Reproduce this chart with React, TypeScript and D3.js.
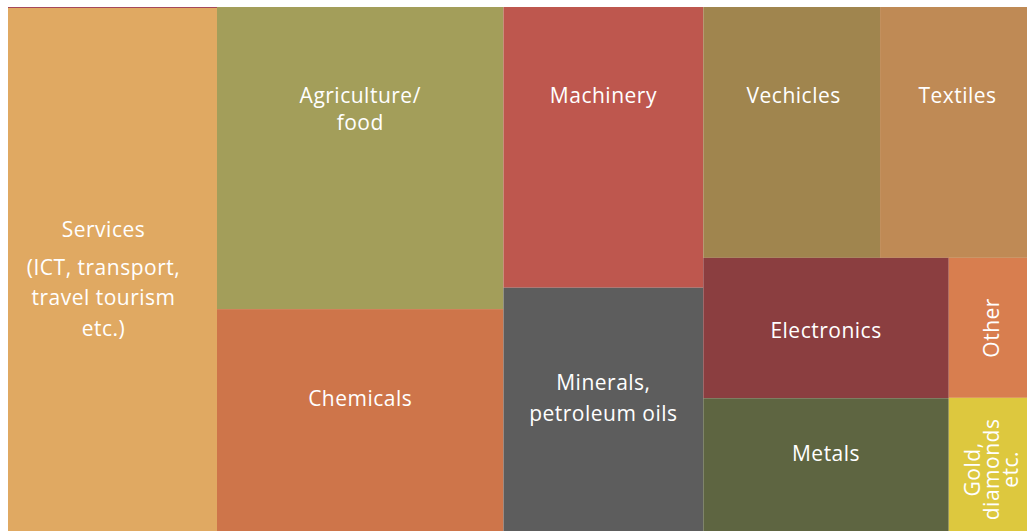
import React from "react";
import * as d3 from "d3";

// Leaf categories and values (share, %)
const categories = ["Services", "Agriculture/food", "Chemicals", "Machinery", "Minerals, petroleum oils", "Vehicles", "Textiles", "Electronics", "Metals", "Other", "Gold, diamonds etc."];
const values = [20.5, 16.2, 11.9, 10.5, 9.1, 8.3, 6.9, 6.45, 6.1, 2.05, 1.95];
const colors = ["#E0A962", "#A39E5A", "#CE754A", "#BE574E", "#5D5D5D", "#A0854E", "#BF8A55", "#8B3E40", "#5E6541", "#D87E4F", "#DDC83E"];

// Label lines for each category
const labelLines: string[][] = [
  ["Services", "(ICT, transport,", "travel tourism", "etc.)"],
  ["Agriculture/", "food"],
  ["Chemicals"],
  ["Machinery"],
  ["Minerals,", "petroleum oils"],
  ["Vechicles"],
  ["Textiles"],
  ["Electronics"],
  ["Metals"],
  ["Other"],
  ["Gold,", "diamonds", "etc."],
];

// Grouping structure (indexes into categories)
const groups: any = {
  name: "root",
  children: [
    { leaf: 0 },
    { name: "g1", children: [{ leaf: 1 }, { leaf: 2 }] },
    { name: "g2", children: [{ leaf: 3 }, { leaf: 4 }] },
    {
      name: "g3",
      children: [
        { name: "top", children: [{ leaf: 5 }, { leaf: 6 }] },
        {
          name: "bottom",
          children: [
            { name: "colA", children: [{ leaf: 7 }, { leaf: 8 }] },
            { name: "colB", children: [{ leaf: 9 }, { leaf: 10 }] },
          ],
        },
      ],
    },
  ],
};

// label placement: line-centre offsets from tile top, x shift, rotation
const labelStyle: Record<number, { offs?: number[]; rotate?: boolean; lh?: number; dx?: number }> = {
  0: { offs: [223, 261, 291, 322], dx: -9 },
  1: { offs: [89, 116] },
  2: { offs: [90] },
  3: { offs: [89] },
  4: { offs: [95, 126] },
  5: { offs: [89], dx: 2 },
  6: { offs: [89], dx: 4 },
  7: { offs: [73] },
  8: { offs: [55] },
  9: { rotate: true, lh: 19 },
  10: { rotate: true, lh: 19 },
};

const X0 = 8, Y0 = 7, W = 1019, H = 524;
const FONT = "'Open Sans', sans-serif";

export default function App() {
  const root = d3
    .hierarchy(groups)
    .sum((d: any) => (d.leaf !== undefined ? values[d.leaf] : 0));
  d3.treemap().tile(d3.treemapSliceDice).size([W, H]).padding(0).round(false)(root as any);
  const leaves = root.leaves() as any[];
  const services = leaves.find((n) => n.data.leaf === 0);

  return (
    <svg width={1027} height={531} style={{ position: "absolute", left: 0, top: 0, display: "block" }}>
      <g transform={`translate(${X0},${Y0})`}>
        {leaves.map((n) => {
          const i = n.data.leaf;
          return (
            <rect key={"r" + i} x={n.x0} y={n.y0} width={n.x1 - n.x0} height={n.y1 - n.y0} fill={colors[i]} />
          );
        })}
        <line x1={services.x0} x2={services.x1} y1={services.y0 + 0.5} y2={services.y0 + 0.5} stroke="#A5485A" strokeWidth={1} />
        {leaves.map((n) => {
          const i = n.data.leaf;
          const st = labelStyle[i];
          const cx = (n.x0 + n.x1) / 2 + (st.dx || 0);
          const lines = labelLines[i];
          if (st.rotate) {
            const cy = (n.y0 + n.y1) / 2 + (i === 10 ? 5 : 0);
            const lh = st.lh || 19;
            const start = -((lines.length - 1) * lh) / 2;
            return (
              <text key={"t" + i} transform={`translate(${cx + 4},${cy}) rotate(-90)`} textAnchor="middle" fill="#fff"
                fontFamily={FONT} fontSize={21} letterSpacing={0.5}>
                {lines.map((l, k) => (
                  <tspan key={k} x={0} y={start + k * lh} dy="0.35em">{l}</tspan>
                ))}
              </text>
            );
          }
          return (
            <text key={"t" + i} textAnchor="middle" fill="#fff" fontFamily={FONT} fontSize={21} letterSpacing={0.5}>
              {lines.map((l, k) => (
                <tspan key={k} x={cx} y={n.y0 + (st.offs as number[])[k]} dy="0.35em">{l}</tspan>
              ))}
            </text>
          );
        })}
      </g>
    </svg>
  );
}
